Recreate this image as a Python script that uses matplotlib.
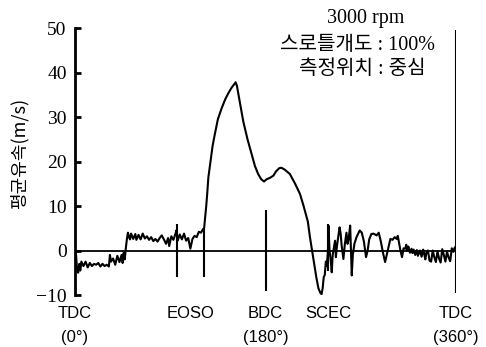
import matplotlib.pyplot as plt

# crank angle (deg) and mean flow velocity (m/s)
angle = [0, 1, 2, 3, 4, 5, 6, 8, 10, 12, 14, 16, 18, 20, 22, 24, 26, 28, 30, 32,
         33, 34, 36, 38, 40, 42, 44, 45, 46, 47, 48, 49, 50,
         51, 52, 53, 55, 57, 58, 60, 62, 64, 66, 68, 70, 72, 74, 76, 78, 80, 82,
         84, 86, 88, 89, 91, 93, 95, 96, 97, 99, 101, 103, 105, 107, 109, 111,
         113, 115, 117, 119, 121, 122, 123, 124, 125, 126, 128, 130, 132, 135,
         138.6, 142, 145, 148, 151.8, 153, 156, 159, 163, 167, 170, 173, 176,
         178.6, 181, 184, 187.4, 190, 193, 195, 198, 203, 208, 212.6, 216, 220,
         222, 224, 226, 228, 230, 232, 233, 234, 235, 236, 237, 238, 239, 239.5,
         240.5, 241.5, 242.6, 243.5, 244.5, 245.7, 246.5, 247.5, 249, 250, 251,
         252, 253.6, 255, 256.5, 257.5, 258.5, 260, 260.8, 261.5, 262.5, 264,
         266, 269, 271, 273, 275, 276.5, 278, 280, 282, 285, 287, 289, 291, 293,
         295, 298, 300, 302, 304, 305, 306, 307.5, 309, 310.5, 312, 313, 314,
         315, 316.5, 318, 319, 320, 321.5, 323, 324, 326, 327.5, 329, 330, 331,
         332, 333.5, 335, 336.5, 338, 339.5, 341, 342.5, 344, 345.5, 347, 348.5,
         350, 351.5, 353, 354.5, 356, 357.5, 358.5, 360]
velocity = [0, -1, -4.5, -5, -3, -4.5, -2.5, -3.5, -2.5, -3.8, -2.8, -3.5, -3, -3.2,
            -2.8, -3.6, -3, -3.5, -3.2, -3.6,
            -1, -2.5, -1.8, -3.2, -1.2, -2.6, -1, -2.8, -0.5, -2, 0.5, 2.5, 4,
            3, 2.5, 3.8, 2.6, 3.7, 2.4, 3.5, 2.5, 3.8, 2.7, 3.2, 2.4, 3, 2.1, 2.6,
            2, 2.8, 3.4, 2.5, 1.5, 2.8, 1.0, 3.2, 2.4, 3.8, 4.6, 2.2, 3.6, 2.5,
            3.8, 2.2, 2.8, 0.4, 2.6, 3.3, 3.0, 4.2, 4.0, 4.8, 5.0, 7.4, 10, 13,
            16.4, 20, 23.5, 26, 29.5, 32, 34, 35.4, 36.6, 37.8, 37, 33, 29, 25,
            21.6, 19, 17.2, 16, 15.5, 16, 16.3, 16.8, 17.8, 18.5, 18.6, 18.2,
            17.2, 15, 12.7, 10, 6.5, 3, 0, -3, -6, -8.5, -9.6, -9.8, -8.5, -6,
            -5.5, -2.5, -3.5, 0, 5.6, 0, -2, -4.9, -1, 0.5, 2.2, -1.5, 1, 3.5,
            5.2, 3.8, 1, -1.9, 1.5, 4, 1.5, 2.5, 5.6, 0, -5.6, -1, 1.5, 3, 4.5,
            4, 2, -1.5, 0, 2.5, 3.7, 3.8, 3.4, 4, 2, -0.5, -2.6, -0.5, 2.6, 2.4,
            3, 2.6, 3.3, 2, 0, -1.5, 0.5, 0.4, 1.3, 0, 0.9, -0.5, 0.4, -0.6, 0.2,
            -1, 0.1, -1.2, 0, -1.4, 0.2, -0.8, -2, -0.5, 0, -2.3, -2.5, 0, -1.5,
            -2.6, -0.2, -1.8, -2.7, 0.3, -1, -2.5, -0.2, -1.6, -2.4, 0.5, -0.3,
            0.5, 1]

# event markers: angle, lower end, upper end
mark_angle = [96, 122, 180, 239, 360]
mark_low = [-6, -6, -9, -4.5, -9.6]
mark_high = [6, 5, 9, 6, 49.5]

tick_pos = [0, 109, 180, 239, 360]
tick_labels = ['TDC\n(0°)', 'EOSO', 'BDC\n(180°)', 'SCEC', 'TDC\n(360°)']
y_ticks = [-10, 0, 10, 20, 30, 40, 50]

fig = plt.figure(figsize=(4.86, 3.47), dpi=100)
ax = fig.add_axes([75 / 486, 1 - 295 / 347, 381 / 486, 267 / 347])

ax.plot(angle, velocity, color='black', lw=1.5)
ax.plot([0, 360], [0, 0], color='black', lw=1.3)
ax.vlines(mark_angle, mark_low, mark_high, color='black', lw=1.5)

ax.set_xlim(0, 360)
ax.set_ylim(-10, 50)
for s in ['top', 'right', 'bottom']:
    ax.spines[s].set_visible(False)
ax.spines['left'].set_linewidth(2)
ax.spines['left'].set_bounds(-10, 50)

ax.set_yticks(y_ticks)
ax.set_yticklabels([str(v).replace('-', '\u2212') for v in y_ticks],
                   family='Liberation Serif', fontsize=14)
ax.tick_params(axis='y', direction='in', length=4, width=2, pad=6)

ax.set_xticks(tick_pos)
ax.set_xticklabels(tick_labels, family='Liberation Sans', fontsize=12,
                   linespacing=1.75)
ax.tick_params(axis='x', length=0, pad=8)

ax.set_ylabel('평균유속(m/s)', family=['Noto Sans CJK KR', 'DejaVu Sans'],
              fontsize=13)
ax.yaxis.set_label_coords(-0.122, 0.53)

cjk = ['Liberation Serif', 'Noto Sans CJK KR']
fig.text(366 / 486, 1 - 18 / 347, '3000 rpm', family=cjk, fontsize=14.5,
         ha='center', va='center')
fig.text(357 / 486, 1 - 46 / 347, '스로틀개도 : 100%', family=cjk, fontsize=14.5,
         ha='center', va='center')
fig.text(362 / 486, 1 - 70 / 347, '측정위치 : 중심', family=cjk, fontsize=14.5,
         ha='center', va='center')

plt.savefig('out.png', dpi=100)
